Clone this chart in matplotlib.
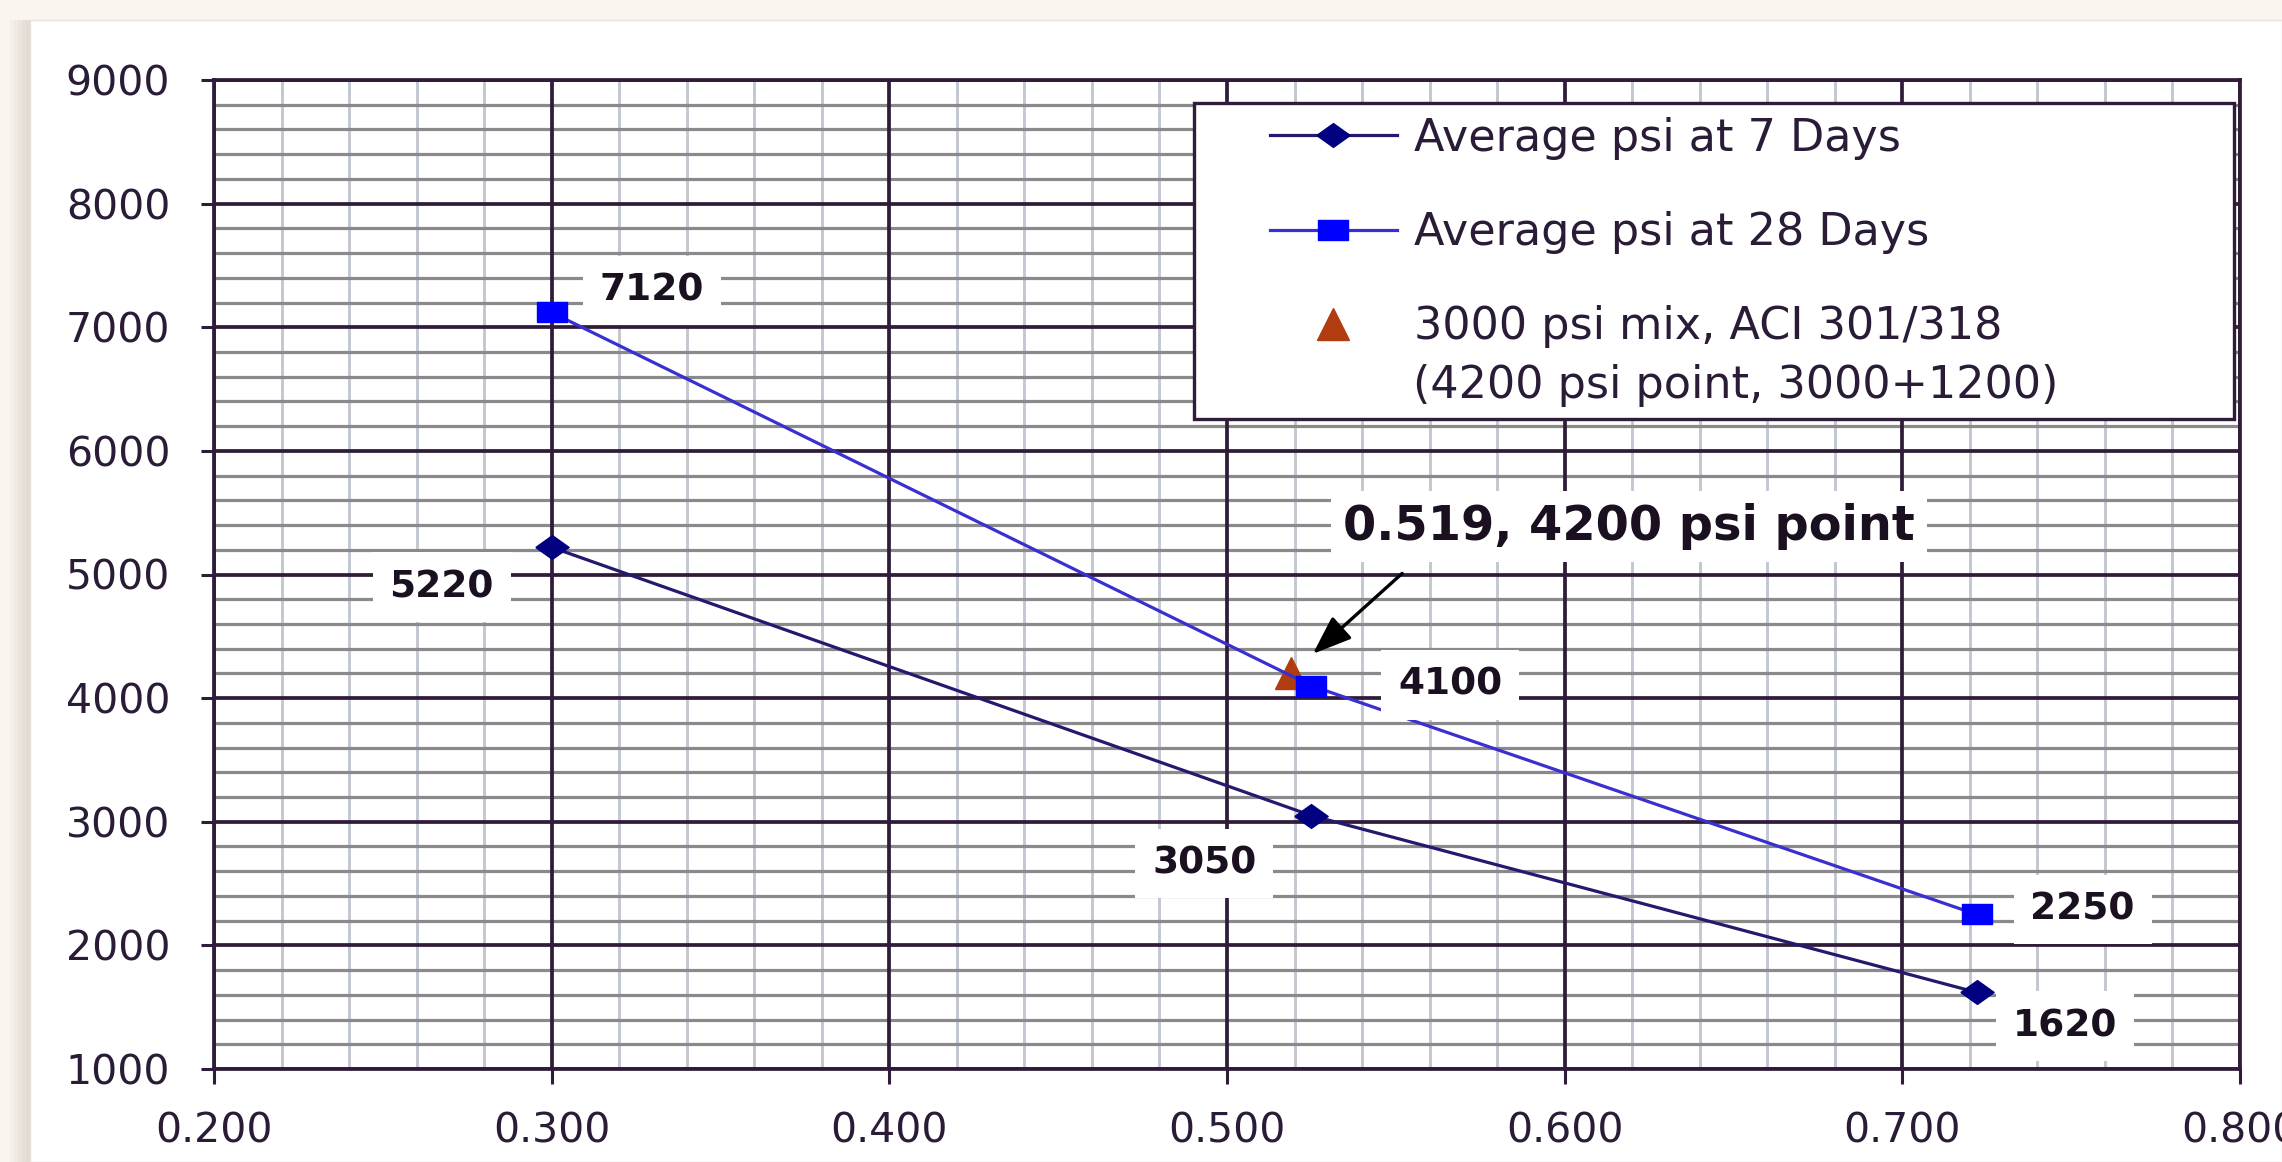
import matplotlib
matplotlib.use("Agg")
import matplotlib.pyplot as plt
from matplotlib.patches import Rectangle
from matplotlib.ticker import MultipleLocator, FixedLocator, FormatStrFormatter

# ---------------- data ----------------
wc_ratio = [0.300, 0.525, 0.722]
psi_7day = [5220, 3050, 1620]
psi_28day = [7120, 4100, 2250]
aci_x = [0.519]
aci_y = [4200]
series_labels = ["Average psi at 7 Days", "Average psi at 28 Days",
                 "3000 psi mix, ACI 301/318"]
aci_label_line2 = "(4200 psi point, 3000+1200)"
annot_text = "0.519, 4200 psi point"
x_ticks = [0.2, 0.3, 0.4, 0.5, 0.6, 0.7, 0.8]
y_ticks = [1000, 2000, 3000, 4000, 5000, 6000, 7000, 8000, 9000]

# ---------------- style ----------------
W, H = 2282, 1162
MAJOR = "#2e1c38"
TXT = "#2a1b36"
LBL = "#1a1020"

def fx(px):
    return px / W

def fy(py):
    return 1 - py / H

fig = plt.figure(figsize=(W / 100, H / 100), dpi=100)
fig.patch.set_facecolor("#fbf5ef")

# card + shadow
for i in range(5):
    w = 4 * (i + 1)
    fig.add_artist(Rectangle((fx(30 - w), 0), fx(w), fy(20), transform=fig.transFigure,
                             fc="#9a8a7a", ec="none", alpha=0.05, zorder=-3))
fig.add_artist(Rectangle((fx(30), 0), 1 - fx(30), fy(20), transform=fig.transFigure,
                         fc="white", ec="#e8e2dc", lw=1, zorder=-2))

ax = fig.add_axes([fx(214), fy(1069), fx(2240 - 214), (1069 - 80) / H])
ax.set_facecolor("white")
ax.set_xlim(0.2, 0.8)
ax.set_ylim(1000, 9000)
ax.xaxis.set_major_locator(FixedLocator(x_ticks))
ax.yaxis.set_major_locator(FixedLocator(y_ticks))
ax.xaxis.set_major_formatter(FormatStrFormatter("%.3f"))
ax.xaxis.set_minor_locator(MultipleLocator(0.02))
ax.yaxis.set_minor_locator(MultipleLocator(200))

ax.set_axisbelow(True)
ax.grid(which="minor", axis="x", color="#c3c7d1", lw=2.1)
ax.grid(which="minor", axis="y", color="#8a8a8c", lw=2.3)
ax.xaxis.set_zorder(0.4)
ax.yaxis.set_zorder(0.5)
for xv in x_ticks:
    ax.axvline(xv, color=MAJOR, lw=2.7, zorder=0.8)
for yv in y_ticks:
    ax.axhline(yv, color=MAJOR, lw=2.7, zorder=0.8)
for s in ax.spines.values():
    s.set_color(MAJOR)
    s.set_linewidth(2.7)

ax.tick_params(which="minor", length=0)
ax.tick_params(axis="x", which="major", direction="out", length=10.8, width=2.2,
               color=MAJOR, labelsize=29.5, labelcolor=TXT, pad=20)
ax.tick_params(axis="y", which="major", direction="out", length=9.5, width=2.2,
               color=MAJOR, labelsize=29.5, labelcolor=TXT, pad=22)

# markers (slightly wide, like the reference)
diamond = [(-1.4, 0), (0, 1), (1.4, 0), (0, -1), (-1.4, 0)]
rect = [(-1.4, -1), (1.4, -1), (1.4, 1), (-1.4, 1), (-1.4, -1)]

ln7, = ax.plot(wc_ratio, psi_7day, color="#24196e", lw=2.3, marker=diamond, ms=24,
               mfc="#000080", mec="#000080", zorder=3, label=series_labels[0])
tri, = ax.plot(aci_x, aci_y, ls="none", marker="^", ms=23, mfc="#b03c10",
               mec="#b03c10", zorder=3.2, label=series_labels[2])
ln28, = ax.plot(wc_ratio, psi_28day, color="#3a2fd0", lw=2.3, marker=rect, ms=21,
                mfc="#0000ff", mec="#0000ff", zorder=3.5, label=series_labels[1])

# data labels
offsets_7 = [(-110, -40), (-107, -48), (88, -34)]
offsets_28 = [(100, 22), (139, 1), (106, 5)]
for xs, ys, offs in [(wc_ratio, psi_7day, offsets_7), (wc_ratio, psi_28day, offsets_28)]:
    for x, y, (dx, dy) in zip(xs, ys, offs):
        ax.annotate(f"{y}", xy=(x, y), xytext=(dx, dy), textcoords="offset pixels",
                    ha="center", va="center", fontsize=27, fontweight="bold", color=LBL,
                    bbox=dict(boxstyle="square,pad=0.45", fc="white", ec="none"),
                    zorder=6)

# annotation
ax.annotate(annot_text, xy=(aci_x[0], aci_y[0]), xytext=(338, 147),
            textcoords="offset pixels", ha="center", va="center", fontsize=34.5,
            fontweight="bold", color=LBL,
            bbox=dict(boxstyle="square,pad=0.25", fc="white", ec="none"), zorder=6)
ax.annotate("", xy=(aci_x[0], aci_y[0]), xytext=(111, 100), textcoords="offset pixels",
            arrowprops=dict(arrowstyle="-|>,head_length=1.2,head_width=0.45",
                            mutation_scale=20, color="black", lw=2.4,
                            shrinkA=0, shrinkB=21), zorder=6)

# legend with manual frame
ax.add_patch(Rectangle((fx(1194), fy(419)), fx(2234 - 1194), (419 - 103) / H,
                       transform=fig.transFigure, fc="white", ec=MAJOR, lw=2.4,
                       zorder=5.5, clip_on=False))
leg = ax.legend(handles=[ln7, ln28, tri], labels=series_labels, loc="upper left",
                bbox_to_anchor=(fx(1270), fy(117)), bbox_transform=fig.transFigure,
                frameon=False, borderpad=0, borderaxespad=0, fontsize=32,
                handlelength=2.85, handletextpad=0.38, labelspacing=1.15)
for t in leg.get_texts():
    t.set_color(TXT)
leg.set_zorder(7)
ax.text(fx(1413), fy(386), aci_label_line2, transform=fig.transFigure, fontsize=32,
        color=TXT, ha="left", va="center", zorder=7)

fig.savefig("out.png", dpi=100, facecolor=fig.get_facecolor())
